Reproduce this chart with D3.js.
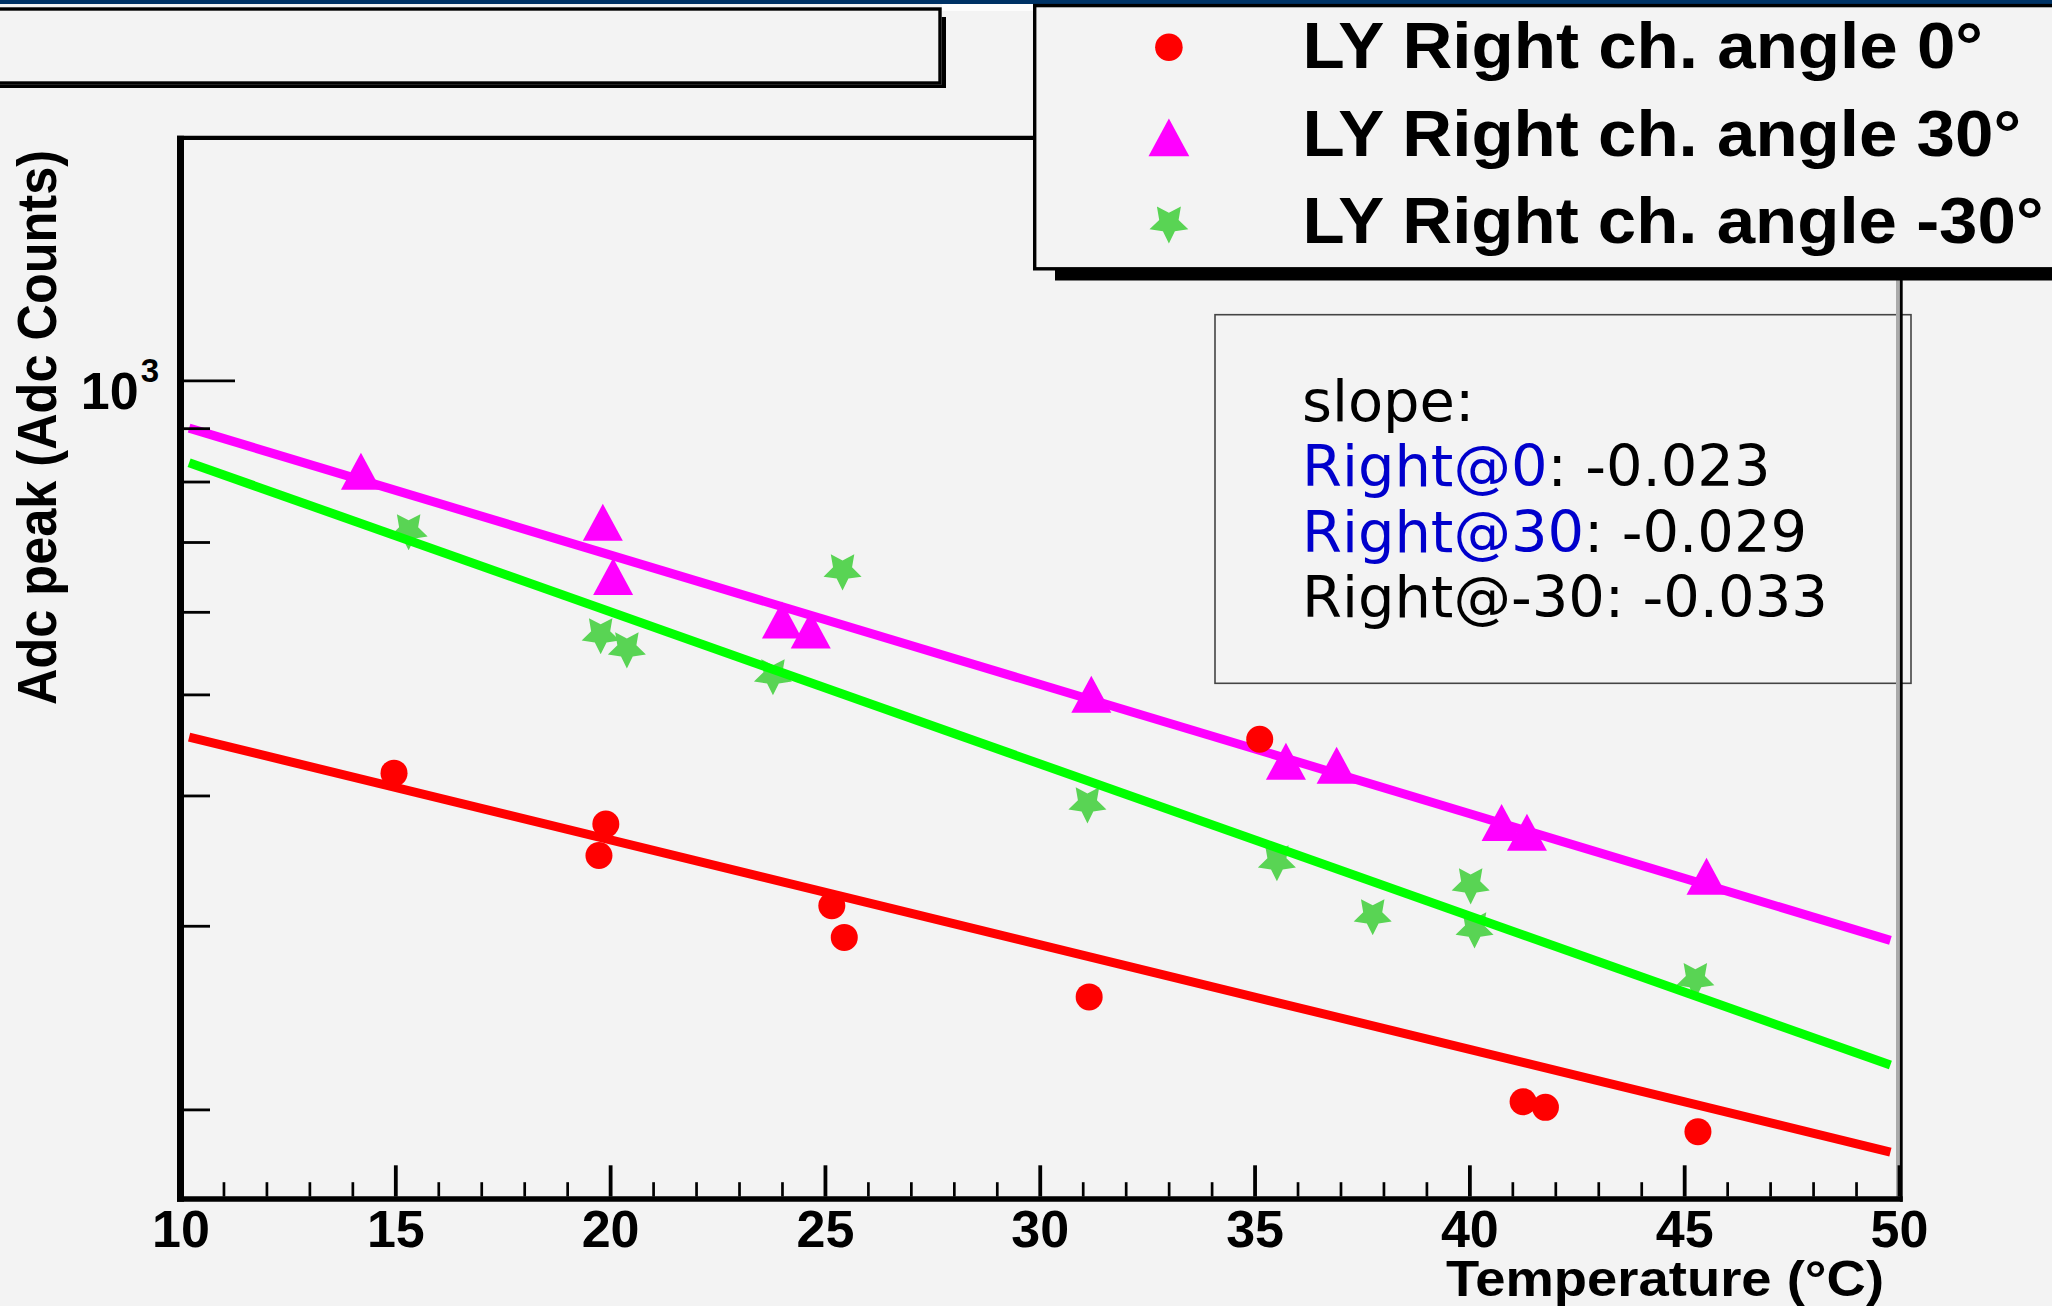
<!DOCTYPE html>
<html><head><meta charset="utf-8">
<script src="https://cdn.jsdelivr.net/npm/d3@7"></script>
<style>html,body{margin:0;padding:0;background:#f3f3f3;overflow:hidden}</style>
</head><body>
<svg id="c" width="2052" height="1306" xmlns="http://www.w3.org/2000/svg"></svg>
<script>
// ---------------- data ----------------
const temps0   = [14.97, 19.90, 19.74, 25.16, 25.45, 31.15, 35.12, 41.25, 41.77, 45.32];
const ly0      = [420.2, 375.5, 350.3, 313.6, 292.4, 256.4, 452.8, 203.4, 200.9, 190.4];
const temps30  = [14.20, 19.83, 20.07, 24.00, 24.67, 31.20, 35.73, 36.91, 40.75, 41.34, 45.52];
const ly30     = [818.3, 731.1, 648.5, 589.3, 576.4, 500.2, 431.3, 427.6, 376.9, 368.7, 334.6];
const tempsM30 = [15.31, 19.78, 20.39, 23.79, 25.41, 31.11, 35.52, 37.75, 40.03, 40.12, 45.26];
const lyM30    = [715.2, 568.5, 551.1, 519.3, 654.6, 391.4, 344.4, 305.7, 327.3, 296.9, 265.5];

// exponential fits (straight on log axis): values at the fit-range ends
const fitRange = [10.2, 49.8];
const fit0     = [455.0, 182.0];
const fit30    = [900.0, 290.5];
const fitM30   = [834.0, 220.6];

const legendLabels = ["LY Right ch. angle 0\u00b0", "LY Right ch. angle 30\u00b0", "LY Right ch. angle -30\u00b0"];
const slopeHeader  = "slope:";
const slopeNames   = ["Right@0", "Right@30", "Right@-30"];
const slopeValues  = ["-0.023", "-0.029", "-0.033"];

const xMajorTicks  = [10, 15, 20, 25, 30, 35, 40, 45, 50];
const xTickLabels  = ["10", "15", "20", "25", "30", "35", "40", "45", "50"];
const xMinorTicks  = [11,12,13,14,16,17,18,19,21,22,23,24,26,27,28,29,31,32,33,34,36,37,38,39,41,42,43,44,46,47,48,49];
const yMajorTicks  = [1000];
const yMinorTicks  = [200, 300, 400, 500, 600, 700, 800, 900];
const xTitle = "Temperature (\u00b0C)";
const yTitle = "Adc peak (Adc Counts)";

// ---------------- drawing ----------------
const svg = d3.select("#c");
const BG = "#f3f3f3";
const HELV = "'Liberation Sans', Arial, Helvetica, sans-serif";
const DJV = "'DejaVu Sans', sans-serif";

const x = d3.scaleLinear().domain([10, 50]).range([180.5, 1899]);
const y = d3.scaleLog().domain([164.1, 1708]).range([1199, 138]);

svg.append("rect").attr("width", 2052).attr("height", 1306).attr("fill", BG);

// slope box (no fill, frame line visible through it)
svg.append("rect").attr("x", 1215).attr("y", 314.7).attr("width", 696).attr("height", 368.6)
  .attr("fill", "none").attr("stroke", "#444").attr("stroke-width", 1.6);

const st = svg.append("g").attr("font-family", DJV).attr("font-size", 57.5).attr("fill", "#000");
st.append("text").attr("x", 1302).attr("y", 420.7).text(slopeHeader);
const slopeBase = [486, 551.7, 617.3];
slopeNames.forEach((n, i) => {
  const t = st.append("text").attr("x", 1302).attr("y", slopeBase[i]);
  t.append("tspan").attr("fill", i < 2 ? "#0000cc" : "#000").text(n);
  t.append("tspan").attr("fill", "#000").text(": " + slopeValues[i]);
});

// markers
const R = 20, RIN = R * 0.5;
const starPts = d3.range(10).map(i => {
  const a = Math.PI / 2 + i * Math.PI / 5, r = i % 2 === 0 ? R : RIN;
  return [r * Math.cos(a), r * Math.sin(a) - 0.0955 * R];
});
const starPath = "M" + starPts.map(p => p.join(",")).join("L") + "Z";
const triPath = "M0,-18.5L20,18.5L-20,18.5Z";
function marker(g, kind, color, cx, cy, s) {
  s = s || 1;
  if (kind === "circle") {
    g.append("circle").attr("cx", cx).attr("cy", cy).attr("r", 13.5 * s).attr("fill", color);
  } else {
    g.append("path").attr("d", kind === "tri" ? triPath : starPath)
      .attr("transform", `translate(${cx},${cy}) scale(${s})`).attr("fill", color);
  }
}

const line = d3.line().x(d => x(d[0])).y(d => y(d[1]));
const series = [
  {t: temps30,  v: ly30,  kind: "tri",    mc: "#ff00ff", fc: "#ff00ff", fit: fit30},
  {t: tempsM30, v: lyM30, kind: "star",   mc: "#59d454", fc: "#00ff00", fit: fitM30},
  {t: temps0,   v: ly0,   kind: "circle", mc: "#ff0000", fc: "#ff0000", fit: fit0}
];
const dataG = svg.append("g");
series.forEach(s => {
  const g = dataG.append("g");
  s.t.forEach((t, i) => marker(g, s.kind, s.mc, x(t), y(s.v[i])));
  g.append("path").datum(fitRange.map((t, i) => [t, s.fit[i]]))
    .attr("d", line).attr("fill", "none").attr("stroke", s.fc).attr("stroke-width", 9);
});

// frame
const fr = svg.append("g");
fr.append("line").attr("x1", 177).attr("x2", 1902.7).attr("y1", 137.9).attr("y2", 137.9).attr("stroke", "#000").attr("stroke-width", 4.3);
fr.append("line").attr("x1", 1898).attr("x2", 1898).attr("y1", 136).attr("y2", 1197).attr("stroke", "#aaa").attr("stroke-width", 4);
fr.append("line").attr("x1", 1901.3).attr("x2", 1901.3).attr("y1", 136).attr("y2", 1201.7).attr("stroke", "#000").attr("stroke-width", 2.8);
fr.append("line").attr("x1", 180.5).attr("x2", 180.5).attr("y1", 135.8).attr("y2", 1201.7).attr("stroke", "#000").attr("stroke-width", 7);
fr.append("line").attr("x1", 177).attr("x2", 1902.7).attr("y1", 1199).attr("y2", 1199).attr("stroke", "#000").attr("stroke-width", 5.6);

// x axis ticks
const gxMin = svg.append("g").attr("transform", "translate(0,1196.5)")
  .call(d3.axisBottom(x).tickValues(xMinorTicks).tickSize(-14.3).tickSizeOuter(0).tickFormat(""));
gxMin.select(".domain").remove();
gxMin.selectAll(".tick line").attr("stroke", "#000").attr("stroke-width", 2.7);

const gxMaj = svg.append("g").attr("transform", "translate(0,1196.5)")
  .call(d3.axisBottom(x).tickValues(xMajorTicks).tickSize(-31.2).tickSizeOuter(0).tickFormat((d, i) => xTickLabels[i]));
gxMaj.select(".domain").remove();
gxMaj.selectAll(".tick line").attr("stroke", "#000").attr("stroke-width", 3.8);
gxMaj.attr("font-family", HELV).attr("font-size", 52).attr("font-weight", "bold");
gxMaj.selectAll(".tick text").attr("y", 50.2).attr("dy", null).attr("fill", "#000");

// y axis ticks
const gyMin = svg.append("g").attr("transform", "translate(184,0)")
  .call(d3.axisLeft(y).tickValues(yMinorTicks).tickSize(-26).tickSizeOuter(0).tickFormat(""));
gyMin.select(".domain").remove();
gyMin.selectAll(".tick line").attr("stroke", "#000").attr("stroke-width", 2.8);

const gyMaj = svg.append("g").attr("transform", "translate(184,0)")
  .call(d3.axisLeft(y).tickValues(yMajorTicks).tickSize(-51).tickSizeOuter(0).tickFormat(() => ""));
gyMaj.select(".domain").remove();
gyMaj.selectAll(".tick line").attr("stroke", "#000").attr("stroke-width", 2.8);
gyMaj.attr("font-family", HELV).attr("font-weight", "bold");
gyMaj.selectAll(".tick text").attr("x", -25).attr("dy", null).attr("text-anchor", "end").attr("fill", "#000")
  .each(function () {
    const t = d3.select(this);
    t.append("tspan").attr("font-size", 52).attr("dy", 28.3).text("10");
    t.append("tspan").attr("font-size", 33).attr("dx", 2).attr("dy", -26.9).text("3");
  });

// axis titles
svg.append("text").attr("x", 1884).attr("y", 1296).attr("text-anchor", "end")
  .attr("font-family", HELV).attr("font-weight", "bold").attr("font-size", 50)
  .attr("textLength", 438).attr("lengthAdjust", "spacingAndGlyphs").attr("fill", "#000").text(xTitle);
svg.append("text").attr("transform", "translate(56,150) scale(1.09,1) rotate(-90)")
  .attr("text-anchor", "end").attr("font-family", HELV).attr("font-weight", "bold").attr("font-size", 51)
  .attr("textLength", 555).attr("lengthAdjust", "spacingAndGlyphs").attr("fill", "#000").text(yTitle);

// top bar + strip
svg.append("rect").attr("x", 0).attr("y", 0).attr("width", 2052).attr("height", 4).attr("fill", "#003366");
svg.append("rect").attr("x", 942).attr("y", 4).attr("width", 91).attr("height", 6.7).attr("fill", "#ffffff");

// title box (empty) with shadow
svg.append("rect").attr("x", 941.7).attr("y", 17).attr("width", 4.3).attr("height", 71).attr("fill", "#000");
svg.append("rect").attr("x", -20).attr("y", 84.5).attr("width", 966).attr("height", 3.5).attr("fill", "#000");
svg.append("rect").attr("x", -20).attr("y", 9).attr("width", 960).attr("height", 74)
  .attr("fill", BG).attr("stroke", "#000").attr("stroke-width", 3.4);

// legend with shadow
svg.append("rect").attr("x", 1055).attr("y", 270).attr("width", 1000).attr("height", 10.5).attr("fill", "#000");
svg.append("rect").attr("x", 1034.7).attr("y", 5.6).attr("width", 1100).attr("height", 263.2)
  .attr("fill", BG).attr("stroke", "#000").attr("stroke-width", 3.4);
const legY = [47.3, 137.3, 225];
const legBase = [68.3, 155.7, 243.3];
const legLen = [680.5, 718.5, 741];
const legKinds = [["circle", "#ff0000"], ["tri", "#ff00ff"], ["star", "#59d454"]];
const lg = svg.append("g");
legendLabels.forEach((lab, i) => {
  marker(lg, legKinds[i][0], legKinds[i][1], 1168.9, legY[i], 1.02);
  lg.append("text").attr("x", 1302.5).attr("y", legBase[i])
    .attr("font-family", HELV).attr("font-weight", "bold").attr("font-size", 65)
    .attr("textLength", legLen[i]).attr("lengthAdjust", "spacingAndGlyphs").attr("fill", "#000").text(lab);
});
</script>
</body></html>
